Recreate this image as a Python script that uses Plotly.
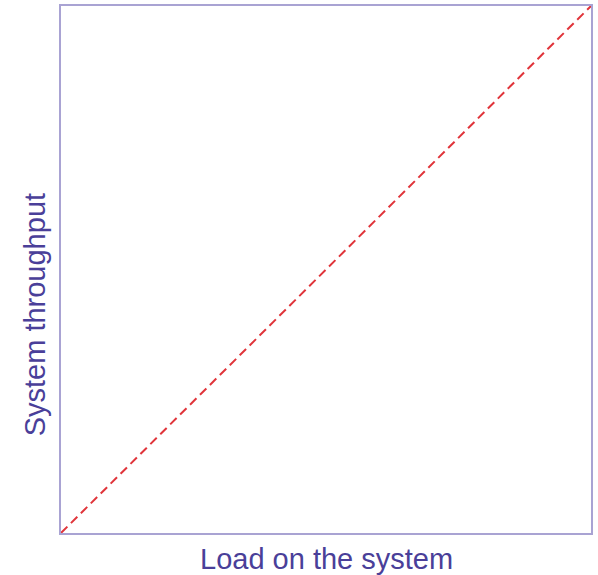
import plotly.graph_objects as go

load = [0, 1]
throughput = [0, 1]
x_title = "Load on the system"
y_title = "System throughput"

text_color = "#4a3f99"
box_color = "#a9a3d3"

fig = go.Figure()
fig.add_trace(go.Scatter(
    x=load, y=throughput, mode="lines",
    line=dict(color="#e0343a", width=2, dash="9px,5px"),
    showlegend=False, hoverinfo="skip",
))

axis_common = dict(
    range=[0, 1], showgrid=False, zeroline=False, showticklabels=False,
    ticks="", showline=True, linecolor=box_color, linewidth=1.5, mirror=True,
    automargin=False,
)

fig.update_layout(
    width=598, height=575,
    margin=dict(l=61, r=7, t=6, b=42, autoexpand=False),
    paper_bgcolor="white", plot_bgcolor="white",
    font=dict(family="Liberation Sans, Arial, sans-serif", color=text_color),
    xaxis=axis_common,
    yaxis=axis_common,
    annotations=[
        dict(text=x_title, xref="paper", yref="paper", x=0.5, y=0,
             xanchor="center", yanchor="middle", yshift=-26, showarrow=False,
             font=dict(size=29, color=text_color)),
        dict(text=y_title, xref="paper", yref="paper", x=0, y=0.413,
             xanchor="center", yanchor="middle", xshift=-26, showarrow=False,
             textangle=-90, font=dict(size=29, color=text_color)),
    ],
)

fig.write_html("out.html", config={"displayModeBar": False},
               post_script="document.body.style.margin='0px';")
